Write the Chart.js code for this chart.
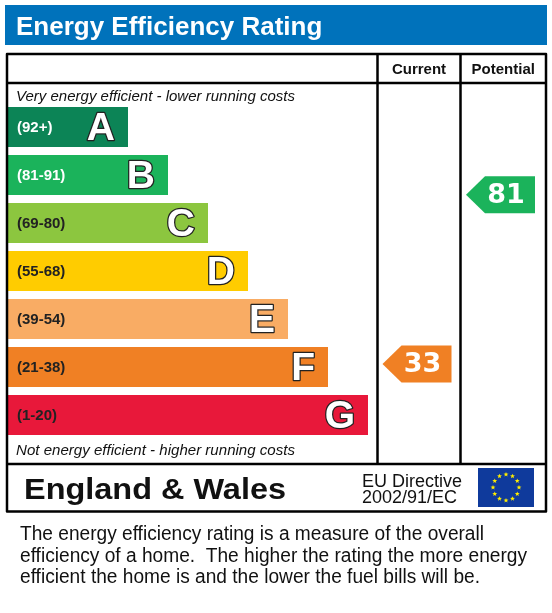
<!DOCTYPE html>
<html>
<head>
<meta charset="utf-8">
<script src="https://cdn.jsdelivr.net/npm/chart.js@4.4.0/dist/chart.umd.min.js"></script>
<style>
  html, body { margin: 0; padding: 0; background: #fff; }
  #wrap { width: 552px; height: 613px; }
</style>
</head>
<body>
<div id="wrap"><canvas id="epcChart" width="552" height="613"></canvas></div>
<script>
// rating bands, top (best) to bottom (worst)
const bands = ['A', 'B', 'C', 'D', 'E', 'F', 'G'];
const bandRanges = ['(92+)', '(81-91)', '(69-80)', '(55-68)', '(39-54)', '(21-38)', '(1-20)'];
const bandMins = [92, 81, 69, 55, 39, 21, 1];
const bandLengths = [3, 4, 5, 6, 7, 8, 9];
const bandColors = ['#0c8456', '#1bb35b', '#8cc63f', '#ffcc00', '#f9ac64', '#f08024', '#e8183a'];
const rangeTextColors = ['#fff', '#fff', '#222', '#222', '#222', '#222', '#222'];

// the two ratings shown in the right-hand columns
const currentRating = [33];
const potentialRating = [81];

const titleText = 'Energy Efficiency Rating';
const footerLines = [
  'The energy efficiency rating is a measure of the overall',
  'efficiency of a home.  The higher the rating the more energy',
  'efficient the home is and the lower the fuel bills will be.'
];
const footerWidths = [464, 507, 460];

function bandIndexFor(r) {
  for (let i = 0; i < bandMins.length; i++) {
    if (r >= bandMins[i]) return i;
  }
  return bandMins.length - 1;
}

// fit text into a width by squeezing/stretching horizontally
function fitText(ctx, txt, x, y, w) {
  const m = ctx.measureText(txt).width;
  ctx.save();
  ctx.translate(x, y);
  ctx.scale(w / m, 1);
  ctx.fillText(txt, 0, 0);
  ctx.restore();
}

function drawArrow(ctx, left, right, cy, h, color, label) {
  const tip = 19;
  ctx.fillStyle = color;
  ctx.beginPath();
  ctx.moveTo(left, cy);
  ctx.lineTo(left + tip, cy - h / 2);
  ctx.lineTo(right, cy - h / 2);
  ctx.lineTo(right, cy + h / 2);
  ctx.lineTo(left + tip, cy + h / 2);
  ctx.closePath();
  ctx.fill();
  ctx.fillStyle = '#fff';
  ctx.font = 'bold 27px "DejaVu Sans", Verdana, sans-serif';
  ctx.textAlign = 'center';
  ctx.textBaseline = 'middle';
  ctx.fillText(label, (left + tip + right) / 2 - 4, cy + 1);
}

function drawFlag(ctx, x, y, w, h) {
  ctx.fillStyle = '#0f3a9c';
  ctx.fillRect(x, y, w, h);
  const cx = x + w / 2, cy = y + h / 2, r = 13;
  ctx.fillStyle = '#ffed00';
  for (let i = 0; i < 12; i++) {
    const a = i * Math.PI / 6;
    const sx = cx + r * Math.sin(a), sy = cy - r * Math.cos(a);
    ctx.beginPath();
    for (let k = 0; k < 10; k++) {
      const rr = k % 2 === 0 ? 2.6 : 1.1;
      const aa = k * Math.PI / 5;
      const px = sx + rr * Math.sin(aa), py = sy - rr * Math.cos(aa);
      if (k === 0) ctx.moveTo(px, py); else ctx.lineTo(px, py);
    }
    ctx.closePath();
    ctx.fill();
  }
}

const colCurrent = [377.5, 460.5];
const colPotential = [460.5, 546];

const epcFrame = {
  id: 'epcFrame',
  beforeDraw(chart) {
    const ctx = chart.ctx;
    ctx.save();
    ctx.fillStyle = '#fff';
    ctx.fillRect(0, 0, chart.width, chart.height);

    // blue title strip
    ctx.fillStyle = '#0072bb';
    ctx.fillRect(5, 5, 542, 40);
    ctx.fillStyle = '#fff';
    ctx.font = 'bold 26px "Liberation Sans", Arial, sans-serif';
    ctx.textAlign = 'left';
    ctx.textBaseline = 'alphabetic';
    ctx.fillText(titleText, 16, 35);

    // column headings
    ctx.fillStyle = '#111';
    ctx.font = 'bold 15px "Liberation Sans", Arial, sans-serif';
    ctx.textAlign = 'center';
    ctx.fillText('Current', (colCurrent[0] + colCurrent[1]) / 2, 74);
    ctx.fillText('Potential', (colPotential[0] + colPotential[1]) / 2, 74);

    // italic notes
    ctx.textAlign = 'left';
    ctx.font = 'italic 14px "Liberation Sans", Arial, sans-serif';
    fitText(ctx, 'Very energy efficient - lower running costs', 16, 101, 279);
    fitText(ctx, 'Not energy efficient - higher running costs', 16, 455, 279);

    // bottom row
    ctx.font = 'bold 29px "Liberation Sans", Arial, sans-serif';
    fitText(ctx, 'England & Wales', 24, 499, 262);
    ctx.font = '18px "Liberation Sans", Arial, sans-serif';
    ctx.fillText('EU Directive', 362, 487);
    ctx.fillText('2002/91/EC', 362, 503);
    drawFlag(ctx, 478, 468, 56, 39);

    // footer
    ctx.fillStyle = '#111';
    ctx.font = '20px "Liberation Sans", Arial, sans-serif';
    footerLines.forEach((t, i) => fitText(ctx, t, 20, 540 + i * 21.5, footerWidths[i]));
    ctx.restore();
  },
  afterDatasetsDraw(chart) {
    const ctx = chart.ctx;
    const meta = chart.getDatasetMeta(0);
    ctx.save();
    meta.data.forEach((bar, i) => {
      ctx.textBaseline = 'middle';
      ctx.textAlign = 'left';
      ctx.font = 'bold 15px "Liberation Sans", Arial, sans-serif';
      ctx.fillStyle = rangeTextColors[i];
      ctx.fillText(bandRanges[i], 17, bar.y + 1);
      ctx.textAlign = 'right';
      ctx.font = 'bold 39px "Liberation Sans", Arial, sans-serif';
      ctx.lineWidth = 2.5;
      ctx.strokeStyle = '#222';
      ctx.lineJoin = 'round';
      ctx.strokeText(bands[i], bar.x - 13, bar.y + 2);
      ctx.fillStyle = '#fff';
      ctx.fillText(bands[i], bar.x - 13, bar.y + 2);
    });

    // table frame
    ctx.strokeStyle = '#000';
    ctx.lineWidth = 2.5;
    ctx.strokeRect(7, 54, 539, 457.5);
    ctx.beginPath();
    ctx.moveTo(7, 83); ctx.lineTo(546, 83);
    ctx.moveTo(7, 464); ctx.lineTo(546, 464);
    ctx.moveTo(colCurrent[0], 54); ctx.lineTo(colCurrent[0], 464);
    ctx.moveTo(colCurrent[1], 54); ctx.lineTo(colCurrent[1], 464);
    ctx.stroke();

    // rating arrows placed on the rating scale
    const rs = chart.scales.rating;
    currentRating.forEach(r => {
      drawArrow(ctx, colCurrent[0] + 5, colCurrent[1] - 9, rs.getPixelForValue(r), 37,
        bandColors[bandIndexFor(r)], String(r));
    });
    potentialRating.forEach(r => {
      drawArrow(ctx, colPotential[0] + 5.5, colPotential[1] - 11, rs.getPixelForValue(r), 37,
        bandColors[bandIndexFor(r)], String(r));
    });
    ctx.restore();
  }
};

const chart = new Chart(document.getElementById('epcChart').getContext('2d'), {
  type: 'bar',
  data: {
    labels: bands,
    datasets: [{
      data: bandLengths,
      backgroundColor: bandColors,
      borderWidth: 0,
      barPercentage: 40 / 48,
      categoryPercentage: 1
    }]
  },
  options: {
    indexAxis: 'y',
    responsive: false,
    animation: false,
    devicePixelRatio: 1,
    layout: { padding: { left: 8, right: 184, top: 103, bottom: 174 } },
    plugins: { legend: { display: false }, tooltip: { enabled: false } },
    scales: {
      x: { min: 0, max: 9, display: false },
      y: { display: false },
      rating: { type: 'linear', axis: 'y', position: 'left', offset: false, min: 11.7, max: 107, display: false }
    }
  },
  plugins: [epcFrame]
});
</script>
</body>
</html>
